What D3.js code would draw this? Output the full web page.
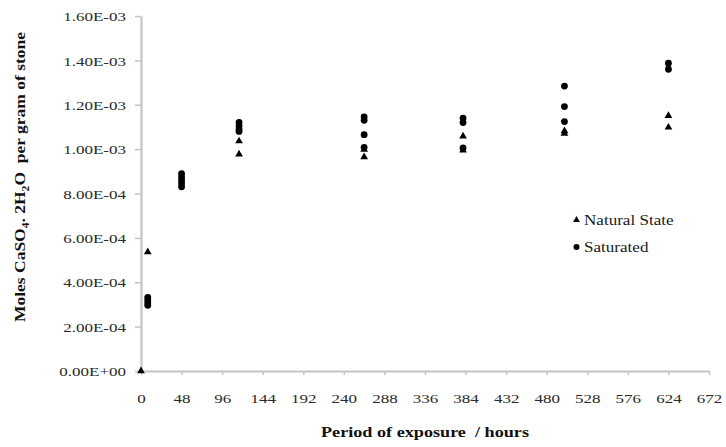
<!DOCTYPE html>
<html>
<head>
<meta charset="utf-8">
<script src="https://cdn.jsdelivr.net/npm/d3@7"></script>
<style>
  body { margin: 0; background: #fff; }
  svg { display: block; }
  text { font-family: "Liberation Serif", "Times New Roman", serif; }
</style>
</head>
<body>
<svg id="chart" width="726" height="447"></svg>
<script>
// ---- Data ----
const hours = [0, 8, 48, 116, 264, 381, 501, 624];
const naturalState = [
  [0],
  [5.36e-4],
  [],
  [1.036e-3, 0.977e-3],
  [0.998e-3, 0.965e-3],
  [1.058e-3, 0.995e-3],
  [1.082e-3, 1.07e-3],
  [1.15e-3, 1.098e-3]
];
const saturated = [
  [],
  [3.32e-4, 3.2e-4, 3.08e-4, 2.96e-4],
  [8.9e-4, 8.75e-4, 8.6e-4, 8.45e-4, 8.3e-4],
  [1.12e-3, 1.105e-3, 1.09e-3, 1.08e-3],
  [1.145e-3, 1.13e-3, 1.065e-3, 1.008e-3],
  [1.14e-3, 1.12e-3, 1.005e-3],
  [1.284e-3, 1.192e-3, 1.124e-3],
  [1.387e-3, 1.36e-3]
];
const xTicks = [0, 48, 96, 144, 192, 240, 288, 336, 384, 432, 480, 528, 576, 624, 672];
const yTicks = [0, 2e-4, 4e-4, 6e-4, 8e-4, 1.0e-3, 1.2e-3, 1.4e-3, 1.6e-3];
const seriesNames = ["Natural State", "Saturated"];

// ---- Layout ----
const svg = d3.select("#chart");
const mLeft = 141, mRight = 709, mTop = 16, mBottom = 371;
const SX = 1.26; // horizontal stretch of the serif text

const x = d3.scaleLinear().domain([0, 672]).range([mLeft, mRight]);
const y = d3.scaleLinear().domain([0, 1.6e-3]).range([mBottom, mTop]);

const fmtY = v => {
  if (v === 0) return "0.00E+00";
  const e = Math.floor(Math.log10(v) + 1e-9);
  const m = v / Math.pow(10, e);
  const es = (e < 0 ? "-" : "+") + String(Math.abs(e)).padStart(2, "0");
  return m.toFixed(2) + "E" + es;
};

// Y axis
const gy = svg.append("g").attr("transform", `translate(${mLeft},0)`)
  .call(d3.axisLeft(y).tickValues(yTicks).tickFormat(fmtY).tickSize(6).tickSizeOuter(0));
gy.attr("font-family", null);
gy.select(".domain").attr("stroke", "#c4c4c4").attr("stroke-width", 2.2);
gy.selectAll(".tick line").attr("stroke", "#c4c4c4").attr("stroke-width", 1.5);
gy.selectAll(".tick text")
  .attr("x", -15 / SX).attr("transform", `scale(${SX},1)`)
  .attr("dy", "0.35em")
  .style("font-family", "'Liberation Serif', 'Times New Roman', serif").style("font-size", "13.5px").attr("fill", "#2a2a2a");

// X axis
const gx = svg.append("g").attr("transform", `translate(0,${mBottom})`)
  .call(d3.axisBottom(x).tickValues(xTicks).tickFormat(d3.format("d")).tickSize(4).tickSizeOuter(0));
gx.attr("font-family", null);
gx.select(".domain").attr("stroke", "#c4c4c4").attr("stroke-width", 2.2);
gx.selectAll(".tick line").attr("stroke", "#c4c4c4").attr("stroke-width", 1.5);
gx.selectAll(".tick text")
  .attr("y", 0).attr("dy", 0)
  .attr("transform", `translate(0,32) scale(${SX},1)`)
  .style("font-family", "'Liberation Serif', 'Times New Roman', serif").style("font-size", "13.5px").attr("fill", "#2a2a2a");

// ---- Points ----
const natPts = [], satPts = [];
hours.forEach((h, i) => {
  naturalState[i].forEach(v => natPts.push([h, v]));
  saturated[i].forEach(v => satPts.push([h, v]));
});

const tri = d3.symbol().type(d3.symbolTriangle).size(26);
svg.append("g").selectAll("circle").data(satPts).join("circle")
  .attr("cx", d => x(d[0])).attr("cy", d => y(d[1])).attr("r", 3.4).attr("fill", "#000");
svg.append("g").selectAll("path").data(natPts).join("path")
  .attr("d", tri).attr("transform", d => `translate(${x(d[0])},${y(d[1])})`).attr("fill", "#000");

// ---- Legend ----
const lg = svg.append("g");
const legY = [220, 247];
lg.append("path").attr("d", d3.symbol().type(d3.symbolTriangle).size(20)())
  .attr("transform", `translate(576.5,${legY[0]})`).attr("fill", "#000");
lg.append("circle").attr("cx", 576.5).attr("cy", legY[1]).attr("r", 3).attr("fill", "#000");
seriesNames.forEach((n, i) => {
  lg.append("text").attr("transform", `translate(584,${legY[i] + 5}) scale(1.22,1)`)
    .style("font-size", "14px").attr("fill", "#1a1a1a").text(n);
});

// ---- Axis titles ----
svg.append("text")
  .attr("x", 425).attr("y", 437).attr("text-anchor", "middle")
  .attr("textLength", 208).attr("lengthAdjust", "spacingAndGlyphs")
  .style("white-space", "pre")
  .style("font-size", "15px").style("font-weight", "bold").attr("fill", "#111")
  .text("Period of exposure  / hours");

const yt = svg.append("text")
  .attr("transform", "translate(25,177) rotate(-90)")
  .attr("text-anchor", "middle")
  .attr("textLength", 290).attr("lengthAdjust", "spacingAndGlyphs")
  .style("white-space", "pre")
  .style("font-size", "15px").style("font-weight", "bold").attr("fill", "#111");
yt.append("tspan").text("Moles CaSO");
yt.append("tspan").attr("dy", 4).style("font-size", "10px").text("4");
yt.append("tspan").attr("dy", -4).text(". 2H");
yt.append("tspan").attr("dy", 4).style("font-size", "10px").text("2");
yt.append("tspan").attr("dy", -4).text("O  per gram of stone");
</script>
</body>
</html>
